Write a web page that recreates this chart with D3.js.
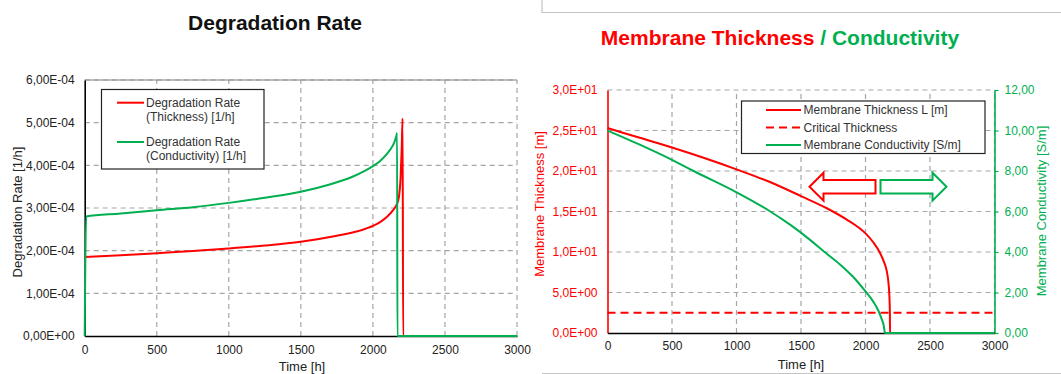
<!DOCTYPE html>
<html>
<head>
<meta charset="utf-8">
<script src="https://cdn.jsdelivr.net/npm/d3@7"></script>
<style>
  body { margin: 0; background: #fff; }
  svg { display: block; font-family: "Liberation Sans", Arial, sans-serif; }
</style>
</head>
<body>
<svg id="chart" width="1061" height="374"></svg>
<script>
(() => {
    // ---- data ----
    // left chart: degradation rates [1/h]
    const thickRateTime = [0, 250, 500, 750, 1000, 1250, 1500, 1750, 1900, 2000, 2050, 2100, 2140, 2165, 2180, 2192, 2200, 2206, 2210, 3000];
    const thickRate = [1.85e-4, 1.89e-4, 1.94e-4, 1.99e-4, 2.05e-4, 2.12e-4, 2.21e-4, 2.35e-4, 2.46e-4, 2.58e-4, 2.67e-4, 2.8e-4, 2.95e-4, 3.08e-4, 3.25e-4, 3.7e-4, 4.4e-4, 5.1e-4, 0, 0];
    const condRateTime = [0, 10, 250, 500, 750, 1000, 1250, 1500, 1700, 1850, 1950, 2000, 2050, 2100, 2130, 2150, 2162, 2168, 2170, 3000];
    const condRate = [0, 2.8e-4, 2.87e-4, 2.95e-4, 3.02e-4, 3.12e-4, 3.24e-4, 3.38e-4, 3.55e-4, 3.72e-4, 3.88e-4, 3.98e-4, 4.1e-4, 4.28e-4, 4.42e-4, 4.55e-4, 4.68e-4, 4.76e-4, 0, 0];

    // right chart: membrane thickness [m] and conductivity [S/m]
    const thickTime = [0, 250, 500, 750, 1000, 1250, 1500, 1700, 1855, 1957, 2000, 2060, 2112, 2140, 2164, 2178, 2185, 2189, 2190, 3000];
    const thickness = [25.3, 24.1, 22.9, 21.6, 20.2, 18.7, 16.9, 15.4, 14.0, 12.9, 12.3, 11.2, 9.9, 8.9, 7.7, 6.2, 4.6, 2.5, 0, 0];
    const condTime = [0, 250, 500, 668, 1000, 1250, 1415, 1570, 1673, 1800, 1900, 2000, 2060, 2100, 2125, 2142, 2151, 3000];
    const conductivity = [10.0, 9.3, 8.55, 8.0, 6.95, 6.05, 5.35, 4.6, 4.05, 3.4, 2.8, 2.05, 1.55, 1.1, 0.7, 0.35, 0, 0];
    const criticalTime = [0, 3000];
    const criticalThickness = [2.5, 2.5];

    const timeTicks = [0, 500, 1000, 1500, 2000, 2500, 3000];
    const rateTicks = [0, 1e-4, 2e-4, 3e-4, 4e-4, 5e-4, 6e-4];
    const thickTicks = [0, 5, 10, 15, 20, 25, 30];
    const condTicks = [0, 2, 4, 6, 8, 10, 12];

    const RED = "#ff0000", GREEN = "#00b050", GRID = "#a6a6a6";

    const svg = d3.select("#chart");

    // "6,00E-04" style labels
    function sci(v, d) {
        const [m, e] = v.toExponential(d).split("e");
        const n = +e;
        return m.replace(".", ",") + "E" + (n < 0 ? "-" : "+") + String(Math.abs(n)).padStart(2, "0");
    }

    const toPts = (xs, ys) => xs.map((t, i) => [t, ys[i]]);

    function grid(g, x, y, xt, yt) {
        g.selectAll(".gx").data(xt.slice(1)).enter().append("line")
            .attr("x1", d => x(d)).attr("x2", d => x(d))
            .attr("y1", y.range()[0]).attr("y2", y.range()[1])
            .attr("stroke", GRID).attr("stroke-width", 1.2).attr("stroke-dasharray", "5,4");
        g.selectAll(".gy").data(yt.slice(1)).enter().append("line")
            .attr("x1", x.range()[0]).attr("x2", x.range()[1])
            .attr("y1", d => y(d)).attr("y2", d => y(d))
            .attr("stroke", GRID).attr("stroke-width", 1.2).attr("stroke-dasharray", "5,4");
    }

    // ================= left chart =================
    const xL = d3.scaleLinear().domain([0, 3000]).range([84.7, 517]);
    const yL = d3.scaleLinear().domain([0, 6e-4]).range([336, 80]);
    const gL = svg.append("g");

    grid(gL, xL, yL, timeTicks, rateTicks);
    gL.append("line").attr("x1", xL(0)).attr("x2", xL(3000)).attr("y1", yL(6e-4)).attr("y2", yL(6e-4))
        .attr("stroke", "#808080").attr("stroke-width", 1.2);

    const axL = gL.append("g").attr("transform", `translate(${xL(0)},0)`)
        .call(d3.axisLeft(yL).tickValues(rateTicks).tickSize(0).tickPadding(10).tickFormat(d => sci(d, 2)));
    const axLB = gL.append("g").attr("transform", `translate(0,${yL(0)})`)
        .call(d3.axisBottom(xL).tickValues(timeTicks).tickSize(0).tickPadding(9).tickFormat(d3.format("d")));
    [axL, axLB].forEach(a => {
        a.select(".domain").attr("stroke", "#000").attr("stroke-width", 1.6);
        a.selectAll("text").attr("font-size", 12).attr("fill", "#222").attr("font-family", "Liberation Sans, Arial");
    });

    const lineL = d3.line().x(d => xL(d[0])).y(d => yL(d[1])).curve(d3.curveMonotoneX);
    gL.append("path").attr("d", lineL(toPts(thickRateTime, thickRate)))
        .attr("fill", "none").attr("stroke", RED).attr("stroke-width", 2);
    gL.append("path").attr("d", lineL(toPts(condRateTime, condRate)))
        .attr("fill", "none").attr("stroke", GREEN).attr("stroke-width", 2);

    svg.append("text").attr("x", 275).attr("y", 30).attr("text-anchor", "middle")
        .attr("font-size", 21).attr("font-weight", "bold").attr("fill", "#111").text("Degradation Rate");
    svg.append("text").attr("transform", "translate(22,212) rotate(-90)").attr("text-anchor", "middle")
        .attr("font-size", 13).attr("fill", "#222").text("Degradation Rate [1/h]");
    svg.append("text").attr("x", 302).attr("y", 371).attr("text-anchor", "middle")
        .attr("font-size", 13).attr("fill", "#222").text("Time [h]");

    // legend left
    const lgL = svg.append("g");
    lgL.append("rect").attr("x", 101.5).attr("y", 89.5).attr("width", 162.5).attr("height", 79.5)
        .attr("fill", "#fff").attr("stroke", "#222").attr("stroke-width", 1.2);
    const legL = [
        { c: RED, l1: "Degradation Rate", l2: "(Thickness) [1/h]", y: 102.7 },
        { c: GREEN, l1: "Degradation Rate", l2: "(Conductivity) [1/h]", y: 142 }
    ];
    legL.forEach(d => {
        lgL.append("line").attr("x1", 117).attr("x2", 144).attr("y1", d.y).attr("y2", d.y)
            .attr("stroke", d.c).attr("stroke-width", 2);
        lgL.append("text").attr("x", 146).attr("y", d.y + 4).attr("font-size", 12).attr("fill", "#333").text(d.l1);
        lgL.append("text").attr("x", 146).attr("y", d.y + 18).attr("font-size", 12).attr("fill", "#333").text(d.l2);
    });

    // ================= right chart =================
    const xR = d3.scaleLinear().domain([0, 3000]).range([607.5, 994.5]);
    const yRL = d3.scaleLinear().domain([0, 30]).range([333, 90]);
    const yRR = d3.scaleLinear().domain([0, 12]).range([333, 90]);
    const gR = svg.append("g");

    // frame lines around the right panel
    svg.append("path").attr("d", "M542,0V12.5H1061").attr("fill", "none").attr("stroke", "#c4c4c4").attr("stroke-width", 1.2);
    svg.append("path").attr("d", "M542,373.5H1061").attr("fill", "none").attr("stroke", "#c4c4c4").attr("stroke-width", 1.2);

    grid(gR, xR, yRL, timeTicks, thickTicks);

    const axRL = gR.append("g").attr("transform", `translate(${xR(0)},0)`)
        .call(d3.axisLeft(yRL).tickValues(thickTicks).tickSize(0).tickPadding(10).tickFormat(d => sci(d, 1)));
    axRL.select(".domain").attr("stroke", RED).attr("stroke-width", 1.6);
    axRL.selectAll("text").attr("fill", RED);
    const axRR = gR.append("g").attr("transform", `translate(${xR(3000)},0)`)
        .call(d3.axisRight(yRR).tickValues(condTicks).tickSizeInner(4).tickSizeOuter(0).tickPadding(6)
            .tickFormat(d => d3.format(".2f")(d).replace(".", ",")));
    axRR.select(".domain").attr("stroke", GREEN).attr("stroke-width", 1.6);
    axRR.selectAll("line").attr("stroke", GREEN).attr("stroke-width", 1.2);
    axRR.selectAll("text").attr("fill", GREEN);
    const axRB = gR.append("g").attr("transform", `translate(0,${yRL(0)})`)
        .call(d3.axisBottom(xR).tickValues(timeTicks).tickSize(0).tickPadding(8).tickFormat(d3.format("d")));
    axRB.select(".domain").attr("stroke", "#000").attr("stroke-width", 1.6);
    axRB.selectAll("text").attr("fill", "#222");
    [axRL, axRR, axRB].forEach(a => a.selectAll("text").attr("font-size", 12).attr("font-family", "Liberation Sans, Arial"));

    const lineRL = d3.line().x(d => xR(d[0])).y(d => yRL(d[1])).curve(d3.curveMonotoneX);
    const lineRR = d3.line().x(d => xR(d[0])).y(d => yRR(d[1])).curve(d3.curveMonotoneX);
    gR.append("path").attr("d", lineRL(toPts(criticalTime, criticalThickness)))
        .attr("fill", "none").attr("stroke", RED).attr("stroke-width", 2).attr("stroke-dasharray", "8,5");
    gR.append("path").attr("d", lineRL(toPts(thickTime, thickness)))
        .attr("fill", "none").attr("stroke", RED).attr("stroke-width", 2);
    gR.append("path").attr("d", lineRR(toPts(condTime, conductivity)))
        .attr("fill", "none").attr("stroke", GREEN).attr("stroke-width", 2);

    // title in two colours
    const tR = svg.append("text").attr("x", 780).attr("y", 45).attr("text-anchor", "middle")
        .attr("font-size", 21).attr("font-weight", "bold");
    tR.append("tspan").attr("fill", RED).text("Membrane Thickness ");
    tR.append("tspan").attr("fill", GREEN).text("/ Conductivity");

    svg.append("text").attr("transform", "translate(544,204) rotate(-90)").attr("text-anchor", "middle")
        .attr("font-size", 13).attr("fill", RED).text("Membrane Thickness [m]");
    svg.append("text").attr("transform", "translate(1046,211) rotate(-90)").attr("text-anchor", "middle")
        .attr("font-size", 13).attr("fill", GREEN).text("Membrane Conductivity [S/m]");
    svg.append("text").attr("x", 801).attr("y", 369).attr("text-anchor", "middle")
        .attr("font-size", 13).attr("fill", "#222").text("Time [h]");

    // legend right
    const lgR = svg.append("g");
    lgR.append("rect").attr("x", 741.5).attr("y", 101).attr("width", 243.5).attr("height", 52.5)
        .attr("fill", "#fff").attr("stroke", "#222").attr("stroke-width", 1.2);
    const legR = [
        { c: RED, dash: null, t: "Membrane Thickness L [m]", y: 110 },
        { c: RED, dash: "8,5", t: "Critical Thickness", y: 127.5 },
        { c: GREEN, dash: null, t: "Membrane Conductivity [S/m]", y: 145 }
    ];
    legR.forEach(d => {
        lgR.append("line").attr("x1", 766).attr("x2", 801).attr("y1", d.y).attr("y2", d.y)
            .attr("stroke", d.c).attr("stroke-width", 2).attr("stroke-dasharray", d.dash);
        lgR.append("text").attr("x", 803.5).attr("y", d.y + 4).attr("font-size", 12).attr("fill", "#333").text(d.t);
    });

    // hollow arrows
    svg.append("path").attr("d", "M809.5,186.7 L823.5,172.7 L823.5,180 L875.5,180 L875.5,193.4 L823.5,193.4 L823.5,200.7 Z")
        .attr("fill", "#fff").attr("stroke", RED).attr("stroke-width", 2);
    svg.append("path").attr("d", "M946.5,186.7 L932.5,172.7 L932.5,180 L880.5,180 L880.5,193.4 L932.5,193.4 L932.5,200.7 Z")
        .attr("fill", "#fff").attr("stroke", GREEN).attr("stroke-width", 2);
})();
</script>
</body>
</html>
